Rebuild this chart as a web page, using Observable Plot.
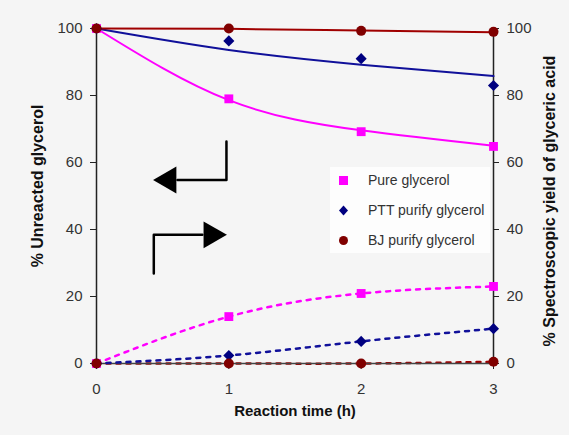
<!DOCTYPE html>
<html><head><meta charset="utf-8">
<script src="https://cdn.jsdelivr.net/npm/d3@7"></script>
<script src="https://cdn.jsdelivr.net/npm/@observablehq/plot@0.6"></script>
<style>
body{margin:0;background:#f5f5f5;font-family:"Liberation Sans",Arial,sans-serif;}
#wrap{position:relative;width:569px;height:435px;}
#legend{position:absolute;left:330px;top:167px;width:160px;height:86px;background:#fdfdfd;}
.row{position:absolute;left:7px;height:20px;display:flex;align-items:center;font-size:14px;color:#333;white-space:nowrap;}
.row svg{margin-right:18px;}
</style></head><body><div id="wrap"><div id="legend"></div></div>
<script>
// ---- data ----
const time = [0, 1, 2, 3];
const xTicks = [0, 1, 2, 3];
const yTicks = [0, 20, 40, 60, 80, 100];
const seriesNames = ["Pure glycerol", "PTT purify glycerol", "BJ purify glycerol"];
const seriesColors = ["#ff00ff", "#000080", "#800000"];
const lineColors = ["#ff00ff", "#10109a", "#a00000"];
// % unreacted glycerol (left axis)
const pureUnreacted = [100, 79, 69.2, 64.8];
const pttUnreacted = [100, 96.3, 91, 83];
const bjUnreacted = [100, 100, 99.3, 99];
// fitted trend values (solid lines)
const pureUnreactedFit = [100, 78.6, 69.6, 65];
const pttUnreactedFit = [100, 93.6, 89.2, 85.8];
const bjUnreactedFit = [100, 99.9, 99.4, 98.9];
// % spectroscopic yield of glyceric acid (right axis)
const pureYield = [0, 14, 20.9, 23];
const pttYield = [0, 2.4, 6.6, 10.4];
const bjYield = [0, 0, 0, 0.5];
// annotation arrows (data coordinates)
const leftArrowX = [0.982, 0.982, 0.612];
const leftArrowY = [66.3, 54.8, 54.8];
const leftHeadX = [0.545];
const leftHeadY = [54.8];
const rightArrowX = [0.433, 0.433, 0.80];
const rightArrowY = [26.9, 38.4, 38.4];
const rightHeadX = [0.868];
const rightHeadY = [38.4];
const leftTitle = "% Unreacted glycerol";
const rightTitle = "% Spectroscopic yield of glyceric acid";
const xTitle = "Reaction time (h)";

const rows = (vals) => time.map((t, i) => ({t, v: vals[i]}));
const pts = (xs, ys) => xs.map((x, i) => ({x, y: ys[i]}));

const dash = {strokeWidth: 2.5, strokeDasharray: "4,6", curve: "natural"};
const solid = {strokeWidth: 2, curve: "natural"};

const chart = Plot.plot({
  width: 569, height: 435,
  marginLeft: 96, marginRight: 76, marginTop: 28, marginBottom: 72,
  style: {background: "transparent", fontFamily: "'Liberation Sans', Arial, sans-serif"},
  x: {domain: [0, 3]},
  y: {domain: [0, 100]},
  marks: [
    Plot.axisY({anchor: "left", ticks: yTicks, tickFormat: "d", tickSize: 6, tickPadding: 8, fontSize: 15, label: null, fill: "#333", stroke: "#222"}),
    Plot.axisY({anchor: "right", ticks: yTicks, tickFormat: "d", tickSize: 5, tickPadding: 8, fontSize: 15, label: null, fill: "#333", stroke: "#222"}),
    Plot.axisX({anchor: "bottom", ticks: xTicks, tickFormat: "d", tickSize: 6, tickPadding: 14, fontSize: 15, label: null, fill: "#333", stroke: "#222"}),
    // fitted lines
    Plot.line(rows(bjYield), {x: "t", y: "v", stroke: lineColors[2], ...dash}),
    Plot.ruleX([0, 3], {stroke: "#222", strokeWidth: 1.5}),
    Plot.ruleY([0], {stroke: "#444", strokeWidth: 1.5}),
    Plot.line(rows(pttYield), {x: "t", y: "v", stroke: lineColors[1], ...dash}),
    Plot.line(rows(pureYield), {x: "t", y: "v", stroke: lineColors[0], ...dash}),
    Plot.line(rows(pureUnreactedFit), {x: "t", y: "v", stroke: lineColors[0], ...solid}),
    Plot.line(rows(pttUnreactedFit), {x: "t", y: "v", stroke: lineColors[1], ...solid}),
    Plot.line(rows(bjUnreactedFit), {x: "t", y: "v", stroke: lineColors[2], ...solid}),
    // markers
    Plot.dot(rows(pureUnreacted), {x: "t", y: "v", symbol: "square", r: 5, fill: seriesColors[0]}),
    Plot.dot(rows(pureYield), {x: "t", y: "v", symbol: "square", r: 5, fill: seriesColors[0]}),
    Plot.dot(rows(pttUnreacted), {x: "t", y: "v", symbol: "diamond2", r: 5, fill: seriesColors[1]}),
    Plot.dot(rows(pttYield), {x: "t", y: "v", symbol: "diamond2", r: 5, fill: seriesColors[1]}),
    Plot.dot(rows(bjUnreacted), {x: "t", y: "v", symbol: "circle", r: 5, fill: seriesColors[2]}),
    Plot.dot(rows(bjYield), {x: "t", y: "v", symbol: "circle", r: 5, fill: seriesColors[2]}),
    // arrows
    Plot.line(pts(leftArrowX, leftArrowY), {x: "x", y: "y", stroke: "#000", strokeWidth: 2.5}),
    Plot.dot(pts(leftHeadX, leftHeadY), {x: "x", y: "y", symbol: "triangle", r: 10, fill: "#000", rotate: -90}),
    Plot.line(pts(rightArrowX, rightArrowY), {x: "x", y: "y", stroke: "#000", strokeWidth: 2.5}),
    Plot.dot(pts(rightHeadX, rightHeadY), {x: "x", y: "y", symbol: "triangle", r: 10, fill: "#000", rotate: 90}),
    // axis titles
    Plot.text([leftTitle], {frameAnchor: "left", textAnchor: "middle", dx: -59, dy: -10, rotate: -90, fontSize: 16, fontWeight: "bold", fill: "#111"}),
    Plot.text([rightTitle], {frameAnchor: "right", textAnchor: "middle", dx: 56, dy: 5, rotate: -90, fontSize: 16, fontWeight: "bold", fill: "#111"}),
    Plot.text([xTitle], {frameAnchor: "bottom", dy: 52, fontSize: 15, fontWeight: "bold", fill: "#111"})
  ]
});
document.getElementById("wrap").prepend(chart);

// legend
const legend = document.getElementById("legend");
const sym = [
  '<rect x="2" y="2" width="9" height="9" fill="' + seriesColors[0] + '"/>',
  '<path d="M6.5 1.5 L11 6.5 L6.5 11.5 L2 6.5 Z" fill="' + seriesColors[1] + '"/>',
  '<circle cx="6.5" cy="6.5" r="4.5" fill="' + seriesColors[2] + '"/>'
];
seriesNames.forEach((name, i) => {
  const row = document.createElement("div");
  row.className = "row";
  row.style.top = (3 + i * 30) + "px";
  row.innerHTML = '<svg width="13" height="13">' + sym[i] + '</svg>';
  const span = document.createElement("span");
  span.textContent = name;
  row.appendChild(span);
  legend.appendChild(row);
});
</script>
</body></html>
